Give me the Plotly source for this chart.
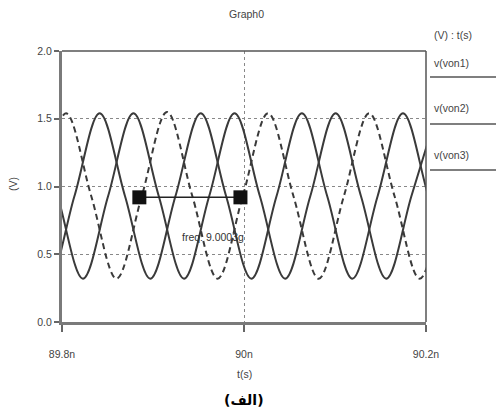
import plotly.graph_objects as go

# ---- data (time in ns, voltage in V) ----
von1_t = [89.7489, 89.7766, 89.8044, 89.8321, 89.8599, 89.8877, 89.9154, 89.9432,
          89.9710, 89.9987, 90.0265, 90.0543, 90.0821, 90.1098, 90.1376, 90.1654,
          90.1931, 90.2209, 90.2487]
von1_v = [0.32, 0.93, 1.54, 0.93, 0.32, 0.93, 1.55, 0.93, 0.32, 0.93, 1.54, 0.93,
          0.32, 0.93, 1.54, 0.93, 0.32, 0.93, 1.54]

von2_t = [89.7581, 89.7859, 89.8137, 89.8414, 89.8692, 89.8970, 89.9247, 89.9525,
          89.9803, 90.0081, 90.0358, 90.0636, 90.0914, 90.1191, 90.1469, 90.1747,
          90.2025, 90.2302]
von2_v = [0.93, 0.32, 0.93, 1.54, 0.93, 0.32, 0.93, 1.54, 0.93, 0.32, 0.93, 1.54,
          0.93, 0.32, 0.93, 1.54, 0.93, 0.32]

von3_t = [89.7674, 89.7952, 89.8230, 89.8507, 89.8785, 89.9063, 89.9341, 89.9618,
          89.9896, 90.0174, 90.0452, 90.0729, 90.1007, 90.1285, 90.1563, 90.1840,
          90.2118]
von3_v = [1.54, 0.93, 0.32, 0.93, 1.54, 0.93, 0.32, 0.93, 1.54, 0.93, 0.32, 0.93,
          1.54, 0.93, 0.32, 0.93, 1.54]

marker_t = [89.8850, 89.9961]
marker_v = [0.92, 0.92]
freq_label = "freq: 9.0003g"

x_ticks = [89.8, 90.0, 90.2]
x_tick_text = ["89.8n", "90n", "90.2n"]
y_ticks = [0.0, 0.5, 1.0, 1.5, 2.0]
y_tick_text = ["0.0", "0.5", "1.0", "1.5", "2.0"]
legend_names = ["v(von1)", "v(von2)", "v(von3)"]

# ---- figure ----
W, H = 496, 414
L, R, T, B = 62, 70, 51, 92
pw, ph = W - L - R, H - T - B

def px(x):
    return (x - L) / pw

def py(y):
    return (H - B - y) / ph

line_col = "#3a3a3a"
text_col = "#444444"
FONT = "Liberation Sans, Arial, sans-serif"

fig = go.Figure()
fig.add_trace(go.Scatter(x=von1_t, y=von1_v, mode="lines", line=dict(color=line_col, width=2, dash="6px,4px", shape="spline"), name=legend_names[0]))
fig.add_trace(go.Scatter(x=von2_t, y=von2_v, mode="lines", line=dict(color=line_col, width=2, shape="spline"), name=legend_names[1]))
fig.add_trace(go.Scatter(x=von3_t, y=von3_v, mode="lines", line=dict(color=line_col, width=2, shape="spline"), name=legend_names[2]))
fig.add_trace(go.Scatter(x=marker_t, y=marker_v, mode="lines+markers",
                         line=dict(color="#222", width=1.5),
                         marker=dict(symbol="square", size=14, color="#111"), name="freq"))

fig.update_layout(
    width=W, height=H, margin=dict(l=L, r=R, t=T, b=B),
    paper_bgcolor="white", plot_bgcolor="white", showlegend=False,
    font=dict(family=FONT, size=10, color=text_col),
)
fig.update_xaxes(range=[89.8, 90.2], tickvals=x_ticks, ticktext=x_tick_text,
                 ticks="outside", ticklen=7, tickcolor="#666", tickwidth=1.5,
                 ticklabelstandoff=13,
                 showline=True, linecolor="#7a7a7a", linewidth=3,
                 showgrid=True, gridcolor="#888", griddash="dot", gridwidth=1,
                 zeroline=False, tickfont=dict(size=10.5, color=text_col))
fig.update_yaxes(range=[0, 2], tickvals=y_ticks, ticktext=y_tick_text,
                 ticks="outside", ticklen=5, tickcolor="#666", tickwidth=1.5,
                 showline=True, linecolor="#7a7a7a", linewidth=3,
                 showgrid=True, gridcolor="#888", griddash="dot", gridwidth=1,
                 zeroline=False, tickfont=dict(size=10.5, color=text_col))

shapes = [
    dict(type="line", xref="paper", yref="paper", x0=0, x1=1, y0=1, y1=1, line=dict(color="#555", width=1.5)),
    dict(type="line", xref="paper", yref="paper", x0=1, x1=1, y0=0, y1=1, line=dict(color="#555", width=1.5)),
]
for yy in [77, 124, 170]:
    shapes.append(dict(type="line", xref="paper", yref="paper", x0=px(430), x1=px(496),
                       y0=py(yy), y1=py(yy), line=dict(color="#555", width=1.5)))
fig.update_layout(shapes=shapes)

ann = [
    dict(text="Graph0", x=px(246), y=py(14)),
    dict(text="(V) : t(s)", x=px(432), y=py(35), xanchor="left"),
    dict(text=legend_names[0], x=px(432), y=py(63), xanchor="left"),
    dict(text=legend_names[1], x=px(432), y=py(108), xanchor="left"),
    dict(text=legend_names[2], x=px(432), y=py(155), xanchor="left"),
    dict(text=freq_label, x=px(180), y=py(237), xanchor="left", font=dict(size=10.5, color="#333")),
    dict(text="(V)", x=px(13), y=py(184), textangle=-90),
    dict(text="t(s)", x=px(244), y=py(374)),
    dict(text="<b>(الف)</b>", x=px(244), y=py(400), font=dict(family="DejaVu Sans, sans-serif", size=14, color="#000")),
]
for a in ann:
    a.setdefault("xanchor", "center")
    a.update(xref="paper", yref="paper", yanchor="middle", showarrow=False)
    a.setdefault("font", dict(size=10.5, color=text_col))
fig.update_layout(annotations=ann)

fig.write_html("out.html", config={"displayModeBar": False},
               post_script="document.body.style.margin='0';document.body.style.overflow='hidden';")
